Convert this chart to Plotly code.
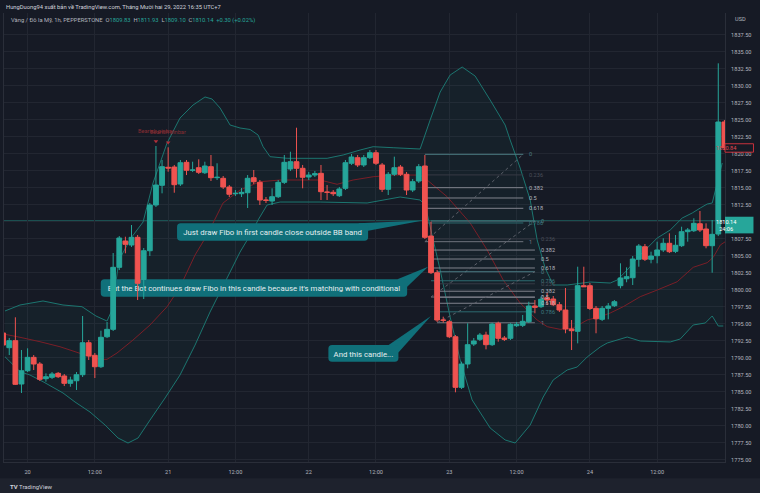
import plotly.graph_objects as go

# ---------------- data ----------------
candle_idx = list(range(-4, 115))  # hourly candle index, 0 = first candle of day "20"
opens = [1793.63,1791.47,1792.50,1786.13,1788.08,1790.05,1789.07,1786.91,1787.11,1787.70,1787.31,1786.23,1786.61,1787.50,1792.20,1790.35,1788.67,1793.08,1794.17,1803.29,
         1807.16,1806.57,1807.70,1801.50,1805.73,1812.45,1815.35,1818.00,1818.04,1815.54,1818.73,1817.56,1817.94,1817.20,1818.09,1816.47,1816.38,1815.10,1814.11,1814.11,
         1814.26,1816.47,1815.79,1813.19,1813.04,1813.67,1815.79,1817.75,1818.82,1817.85,1816.57,1816.86,1817.11,1814.36,1814.32,1813.82,1814.91,1818.59,1819.41,1818.34,
         1819.41,1820.14,1818.34,1814.76,1816.97,1818.04,1816.97,1814.66,1815.98,1818.19,1807.89,1802.50,1795.54,1795.29,1793.08,1785.64,1789.07,1792.01,1792.70,1793.33,
         1791.91,1795.06,1792.89,1792.85,1794.70,1794.76,1795.29,1797.60,1797.50,1798.82,1798.63,1797.79,1797.01,1794.22,1793.88,1800.59,1800.59,1797.26,1795.64,1797.26,
         1797.64,1800.59,1801.61,1801.76,1804.47,1806.32,1804.47,1805.00,1805.84,1806.82,1805.64,1806.47,1808.53,1808.67,1809.70,1808.92,1806.47,1808.19,1824.66]
highs = [1794.36,1792.89,1795.94,1791.13,1791.38,1790.39,1789.36,1787.70,1787.89,1787.89,1787.60,1787.20,1787.89,1796.13,1792.60,1790.69,1793.97,1795.25,1805.39,1807.89,
         1807.79,1809.51,1808.04,1806.13,1812.75,1821.13,1819.07,1820.94,1818.34,1819.07,1819.07,1818.82,1819.17,1818.82,1819.81,1818.59,1816.72,1815.39,1814.66,1814.95,
         1816.86,1817.60,1816.13,1813.63,1814.91,1816.13,1819.81,1820.29,1823.82,1818.34,1817.31,1817.45,1818.34,1815.39,1814.66,1815.10,1819.07,1819.95,1819.81,1819.81,
         1820.54,1820.54,1818.63,1817.31,1819.56,1818.34,1817.31,1816.28,1818.48,1819.81,1810.00,1802.89,1796.03,1795.54,1793.33,1789.41,1795.06,1792.89,1793.63,1793.82,
         1795.14,1795.29,1793.19,1795.06,1795.25,1796.28,1798.23,1798.48,1798.97,1799.51,1799.07,1798.19,1800.25,1795.54,1803.38,1803.38,1800.98,1797.60,1797.60,1798.04,
         1798.48,1803.88,1803.29,1804.95,1806.72,1806.72,1805.59,1807.06,1807.56,1808.29,1808.04,1809.26,1809.07,1810.50,1811.57,1809.76,1810.25,1833.29,1824.95]
lows = [1790.83,1790.39,1785.98,1784.81,1787.89,1788.19,1786.57,1786.47,1786.86,1787.01,1785.83,1785.73,1785.25,1787.16,1789.66,1787.01,1788.48,1792.89,1793.92,1802.89,
        1805.35,1806.28,1798.48,1798.63,1804.95,1812.16,1814.17,1817.35,1814.26,1815.25,1816.86,1817.31,1817.01,1817.01,1815.98,1816.13,1814.81,1813.63,1813.78,1813.63,
        1812.01,1815.54,1812.45,1812.75,1812.45,1813.48,1815.54,1817.45,1816.47,1814.91,1816.13,1816.57,1813.19,1813.19,1813.78,1813.63,1814.66,1818.34,1818.04,1818.04,
        1819.22,1818.34,1814.36,1813.92,1816.72,1816.72,1813.92,1814.36,1815.69,1807.45,1802.31,1795.25,1795.14,1792.89,1784.91,1785.39,1788.44,1791.72,1792.45,1791.23,
        1791.72,1792.35,1792.45,1792.60,1794.51,1794.51,1795.10,1796.53,1797.31,1797.75,1797.60,1796.72,1793.59,1791.13,1792.11,1800.39,1797.01,1793.59,1795.39,1795.64,
        1797.45,1800.20,1801.09,1800.69,1803.38,1804.22,1803.88,1803.88,1805.54,1805.39,1805.39,1806.28,1807.06,1808.48,1808.48,1806.09,1802.50,1807.89,1820.54]
closes = [1791.86,1792.50,1786.08,1788.08,1790.05,1789.07,1786.82,1787.20,1787.60,1787.20,1786.23,1786.72,1787.50,1792.20,1790.25,1788.67,1793.00,1794.17,1803.29,1807.60,
          1806.67,1807.70,1800.94,1805.73,1812.45,1815.39,1818.09,1817.89,1815.44,1818.67,1817.56,1817.60,1817.26,1818.19,1816.47,1816.53,1815.10,1814.03,1814.17,1814.32,
          1816.38,1815.88,1813.19,1813.14,1813.67,1815.79,1818.73,1818.82,1817.85,1816.53,1816.86,1817.06,1814.41,1814.32,1814.11,1814.81,1818.67,1819.51,1818.34,1819.41,
          1820.14,1818.59,1814.76,1816.97,1817.94,1816.97,1814.66,1815.88,1818.09,1807.70,1802.50,1795.54,1795.50,1793.08,1785.64,1789.07,1791.91,1792.45,1793.33,1791.91,
          1794.95,1792.85,1792.70,1794.91,1794.91,1795.35,1797.60,1797.41,1798.59,1798.48,1797.79,1797.01,1794.22,1793.97,1800.59,1800.44,1797.23,1795.72,1797.26,1797.60,
          1798.23,1801.72,1801.91,1804.51,1806.42,1804.47,1804.95,1805.84,1806.82,1805.59,1806.53,1808.53,1808.78,1809.76,1808.78,1806.47,1808.14,1824.66,1820.88]

# Bollinger Bands (read at points along each line)
upper_i = [-3.70,-1.24,2.52,5.79,8.90,11.19,12.99,13.81,14.96,16.92,18.89,20.52,22.82,24.94,27.07,29.03,30.18,31.49,33.13,34.76,
           36.40,37.71,38.53,39.67,42.46,49.0,51.62,54.40,56.53,59.80,64.22,65.86,67.5,69.13,71.10,73.22,75.68,78.13,78.95,80.59,
           82.23,83.37,84.68,85.99,88.28,92.05,95.32,96.46,98.10,100.23,103.01,105.14,107.1,108.74,110.05,111.19,112.01,112.83,113.65]
upper_p = [1796.87,1797.75,1798.34,1797.75,1797.50,1796.13,1795.39,1797.01,1804.36,1807.60,1809.95,1815.69,1821.57,1825.25,1827.16,1828.34,1828.04,1826.72,1824.22,1823.78,
           1823.56,1822.75,1821.03,1819.56,1819.32,1819.32,1819.81,1820.54,1821.03,1820.88,1820.69,1824.95,1829.07,1831.57,1832.75,1831.42,1827.89,1824.22,1822.01,1817.89,
           1813.19,1807.31,1803.19,1800.69,1800.69,1801.13,1800.98,1801.42,1802.89,1805.10,1807.60,1808.78,1810.54,1811.28,1812.01,1812.60,1812.75,1815.69,1818.63]
lower_i = [-3.70,-2.88,-1.24,0.39,2.52,5.79,7.76,10.21,12.67,14.80,16.43,18.07,20.03,22.49,24.94,27.40,29.85,32.31,34.76,36.72,
           37.71,39.18,41.31,47.86,55.55,60.95,64.22,65.04,67.50,69.13,70.77,72.73,75.68,78.13,79.77,82.23,84.36,85.99,88.28,89.92,
           91.55,93.68,94.83,98.10,100.23,105.14,106.78,108.9,110.87,112.01,113.0,113.82]
lower_p = [1790.14,1789.41,1787.94,1787.45,1786.47,1784.81,1783.48,1782.01,1780.10,1778.19,1777.45,1778.19,1780.83,1784.07,1787.45,1791.86,1796.72,1801.13,1805.54,1808.48,
           1810.25,1812.45,1812.89,1812.89,1812.75,1813.63,1813.19,1812.45,1802.89,1795.98,1789.66,1783.78,1779.66,1777.90,1777.45,1780.10,1784.22,1786.72,1788.19,1788.63,
           1790.10,1791.57,1792.16,1793.04,1792.45,1792.31,1792.75,1794.81,1795.10,1796.13,1794.66,1794.66]
basis_i = [-3.70,-1.24,2.03,5.30,8.58,11.85,12.99,14.63,17.25,20.03,22.82,24.94,27.40,29.36,31.98,34.76,38.04,41.31,47.86,50.64,
           53.26,56.53,59.80,64.22,65.37,68.64,72.41,75.19,77.81,80.59,83.37,85.01,87.13,89.26,91.55,93.68,95.32,97.45,100.23,103.01,
           106.28,108.9,111.19,112.18,113.33,114.15]
basis_p = [1793.44,1793.00,1792.35,1791.61,1790.64,1789.76,1789.76,1790.69,1792.60,1794.81,1797.50,1800.39,1805.10,1808.04,1812.75,1814.66,1815.88,1816.13,1816.13,1815.50,
           1816.13,1816.61,1816.86,1816.86,1816.13,1813.67,1809.81,1805.84,1801.42,1798.04,1795.54,1794.56,1794.17,1794.36,1795.54,1796.03,1796.57,1797.50,1798.97,1799.95,
           1801.17,1803.29,1803.97,1804.76,1806.57,1807.06]

# Fibonacci retracements: (start index, end index, level-0 price, level-1 price)
fib_levels = [0, 0.236, 0.382, 0.5, 0.618, 0.786, 1]
fib_labels = ["0", "0.236", "0.382", "0.5", "0.618", "0.786", "1"]
fib_sets = [(65, 81.1, 1819.91, 1807.06),
            (66, 83.0, 1810.10, 1798.92),
            (67, 83.0, 1802.64, 1795.14)]
fib_line_colors = ["#4b7c83", "#363a45", "#80838d", "#80838d", "#80838d", "#2d6b70", "#6f737d"]
fib_text_colors = ["#4b7c83", "#4a4e59", "#b2b5be", "#b2b5be", "#b2b5be", "#3d7a7f", "#787b86"]

# Callouts: (text, x0, x1, y0, y1, tip_x, tip_y)
callouts = [
    ("Just draw Fibo in first candle close outside BB band", 24.45, 55.71, 1807.20, 1809.76, 64.71, 1810.17),
    ("But the Bot continues draw Fibo in this candle because it's matching with conditional", 11.97, 62.1, 1798.97, 1801.53, 65.53, 1803.38),
    ("And this candle...", 49.21, 60.67, 1789.41, 1791.87, 66.0, 1796.13),
]

pinbar_idx = [21, 23]
day_tick_vals = [0, 11, 23, 34, 46, 57, 69, 80, 92, 103]
day_tick_text = ["20", "12:00", "21", "12:00", "22", "12:00", "23", "12:00", "24", "12:00"]
price_ticks = [1775 + 2.5 * k for k in range(26)]
last_price = 1810.14
marked_price = 1820.84

# ---------------- styling ----------------
BG = "#161a25"
GRID = "#222631"
TXT = "#b2b5be"
UP = "#26a69a"
DN = "#ef5350"
BAND = "#1c7670"
FONT = "Roboto"

x_range = [-3.86, 114.1]
y_range = [1774.66, 1840.69]


def poly(xs, ys):
    return "M " + " L ".join(f"{x},{y}" for x, y in zip(xs, ys))


fig = go.Figure()

# Candles (drawn above every "between" shape: band, fibs, callouts)
fig.add_trace(go.Candlestick(x=candle_idx, open=opens, high=highs, low=lows, close=closes,
                             increasing=dict(line=dict(color=UP, width=1), fillcolor=UP),
                             decreasing=dict(line=dict(color=DN, width=1), fillcolor=DN),
                             whiskerwidth=0, showlegend=False, hoverinfo="skip"))

# Pinbar markers
pin_hi = [highs[candle_idx.index(i)] for i in pinbar_idx]
fig.add_trace(go.Scatter(x=pinbar_idx, y=[h + 0.7 for h in pin_hi], mode="markers",
                         marker=dict(symbol="triangle-down", size=4, color="#b3303a"),
                         hoverinfo="skip", showlegend=False))

shapes = []
annotations = []

# Bollinger band: fill, upper, lower, basis (as data-space paths under the callouts)
fill_path = poly(upper_i + lower_i[::-1], upper_p + lower_p[::-1]) + " Z"
shapes.append(dict(type="path", xref="x", yref="y", path=fill_path,
                   fillcolor="rgba(38,166,154,0.055)", line=dict(width=0), layer="between"))
for xs, ys, col in [(upper_i, upper_p, BAND), (lower_i, lower_p, BAND), (basis_i, basis_p, "#7a1e27")]:
    shapes.append(dict(type="path", xref="x", yref="y", path=poly(xs, ys),
                       line=dict(color=col, width=1), layer="between"))

# Fib drawings
for (xs, xe, p0, p1) in fib_sets:
    for lvl, lab, lc, tc in zip(fib_levels, fib_labels, fib_line_colors, fib_text_colors):
        p = p0 + (p1 - p0) * lvl
        shapes.append(dict(type="line", xref="x", yref="y", x0=xs, x1=xe, y0=p, y1=p,
                           line=dict(color=lc, width=1), layer="between"))
        annotations.append(dict(x=xe + 0.6, y=p, xref="x", yref="y", text=lab, showarrow=False,
                                xanchor="left", yanchor="middle",
                                font=dict(family=FONT, size=5.6, color=tc)))
    shapes.append(dict(type="line", xref="x", yref="y", x0=xs, x1=xe, y0=p1, y1=p0,
                       line=dict(color="#5d616b", width=1, dash="dot"), layer="between"))

# last price line
shapes.append(dict(type="line", xref="paper", yref="y", x0=0, x1=1, y0=last_price, y1=last_price,
                   line=dict(color="rgba(38,166,154,0.5)", width=1), layer="between"))

# Callouts
rx, ry = 0.6, 0.55
CALL = "#10707a"
for (txt, x0, x1, y0, y1, tx, ty) in callouts:
    path = (f"M {x0+rx},{y0} L {x1-rx},{y0} Q {x1},{y0} {x1},{y0+ry} L {x1},{y1-ry} "
            f"Q {x1},{y1} {x1-rx},{y1} L {x0+rx},{y1} Q {x0},{y1} {x0},{y1-ry} "
            f"L {x0},{y0+ry} Q {x0},{y0} {x0+rx},{y0} Z")
    tail = f"M {x1-1.6},{y1} L {tx},{ty} L {x1},{y1-1.1} Z"
    shapes.append(dict(type="path", xref="x", yref="y", path=tail, fillcolor=CALL,
                       line=dict(width=0), layer="between"))
    shapes.append(dict(type="path", xref="x", yref="y", path=path, fillcolor=CALL,
                       line=dict(width=0), layer="between",
                       label=dict(text=txt, textposition="middle center",
                                  font=dict(family=FONT, size=7.8, color="#e4eef0"))))

# pinbar labels
for i, h in zip(pinbar_idx, pin_hi):
    annotations.append(dict(x=i, y=h, xref="x", yref="y", text="Bearish pinbar", showarrow=False,
                            yshift=15, font=dict(family=FONT, size=5.6, color="#8a2d33")))

# axis price labels
shapes.append(dict(type="rect", xref="paper", yref="y", x0=1.0, x1=1.0395,
                   y0=last_price - 1.86, y1=last_price + 0.59, fillcolor=UP, line=dict(width=0)))
annotations.append(dict(x=1.0195, y=last_price - 0.63, xref="paper", yref="y",
                        text="1810.14<br>24:06", showarrow=False,
                        font=dict(family=FONT, size=5.6, color="#ffffff")))
shapes.append(dict(type="rect", xref="paper", yref="y", x0=1.0, x1=1.0395,
                   y0=marked_price - 0.62, y1=marked_price + 0.62, fillcolor=BG,
                   line=dict(color="#c8323c", width=1)))
annotations.append(dict(x=1.0195, y=marked_price, xref="paper", yref="y", text="1820.84",
                        showarrow=False, font=dict(family=FONT, size=5.6, color="#e04850")))

# footer strip
shapes.append(dict(type="rect", xref="paper", yref="paper", x0=-0.01, x1=1.06, y0=-0.069, y1=-0.036,
                   fillcolor="#1e222d", line=dict(width=0), layer="below"))

# header texts
annotations.append(dict(x=0.0, y=1.0134, xref="paper", yref="paper", xanchor="left", yanchor="middle",
                        text="HungDuong94 xuất bản về TradingView.com, Tháng Mười hai 29, 2022 16:35 UTC+7",
                        showarrow=False, font=dict(family=FONT, size=5.8, color="#d1d4dc")))
hdr = ('<span style="color:#b2b5be">Vàng / Đô la Mỹ, 1h, PEPPERSTONE  O</span><span style="color:#26a69a">1809.83</span>'
       '<span style="color:#b2b5be">  H</span><span style="color:#26a69a">1811.93</span>'
       '<span style="color:#b2b5be">  L</span><span style="color:#26a69a">1809.10</span>'
       '<span style="color:#b2b5be">  C</span><span style="color:#26a69a">1810.14  +0.30 (+0.02%)</span>')
annotations.append(dict(x=0.0069, y=0.9844, xref="paper", yref="paper", xanchor="left", yanchor="middle",
                        text=hdr, showarrow=False, font=dict(family=FONT, size=5.8, color=TXT)))
annotations.append(dict(x=1.011, y=0.9866, xref="paper", yref="paper", xanchor="left", yanchor="middle",
                        text="USD", showarrow=False, font=dict(family=FONT, size=5.6, color=TXT)))
annotations.append(dict(x=0.0055, y=-0.0535, xref="paper", yref="paper", xanchor="left", yanchor="middle",
                        text="<b>TV</b> TradingView", showarrow=False,
                        font=dict(family=FONT, size=6, color="#d1d4dc")))

fig.update_layout(
    width=760, height=493,
    margin=dict(l=4, r=35, t=13, b=31),
    paper_bgcolor=BG, plot_bgcolor=BG,
    showlegend=False,
    boxgap=0.22, boxgroupgap=0.0,
    shapes=shapes, annotations=annotations,
    xaxis=dict(range=x_range, tickmode="array", tickvals=day_tick_vals, ticktext=day_tick_text,
               showgrid=True, gridcolor=GRID, gridwidth=1, zeroline=False,
               showline=True, linecolor="#2a2e39", linewidth=1,
               tickfont=dict(family=FONT, size=5.6, color=TXT), ticks="",
               ticklabelstandoff=4, rangeslider=dict(visible=False), fixedrange=True),
    yaxis=dict(range=y_range, side="right", tickmode="array", tickvals=price_ticks,
               tickformat=".2f", showgrid=True, gridcolor=GRID, gridwidth=1, zeroline=False,
               showline=True, linecolor="#2a2e39", linewidth=1, mirror=True,
               tickfont=dict(family=FONT, size=5.6, color=TXT), ticks="",
               ticklabelstandoff=4, fixedrange=True),
)

fig.write_html("out.html")
